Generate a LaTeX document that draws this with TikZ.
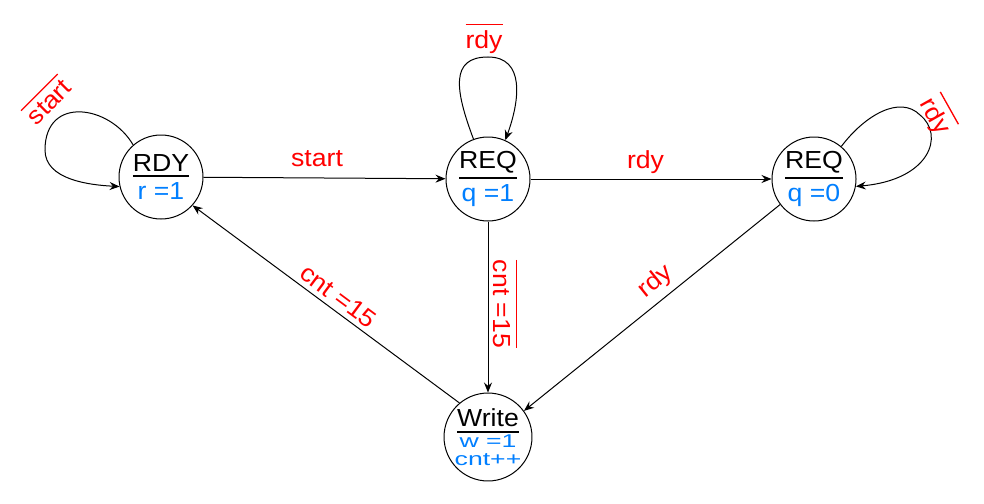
\documentclass[tikz,border=0pt]{standalone}
\usepackage{fontspec}
\setmainfont[FakeStretch=1.08]{Liberation Sans}
\usepackage{graphicx}
\usetikzlibrary{arrows.meta}
\definecolor{sred}{RGB}{255,0,0}
\definecolor{sblue}{RGB}{0,127,255}
\newcommand{\stfont}{\fontsize{18.5}{22}\selectfont}
\newcommand{\sttl}[1]{\setbox0=\hbox{#1}\vbox{\copy0\kern3.2pt\hrule height 1.5pt width \wd0}}
\newcommand{\ovl}[1]{\setbox0=\hbox{#1}\vbox{\hrule height 1pt width \wd0\kern 4pt\box0}}
\tikzset{
  state/.style={circle,draw,line width=0.75pt,minimum size=63pt,inner sep=0pt,align=center,font=\stfont},
  lbl/.style={text=sred,inner sep=0pt,font=\stfont},
  conn/.style={draw,line width=0.75pt,-{Stealth[length=7.5pt,width=6pt,inset=2.5pt]}}
}
\begin{document}
\begin{tikzpicture}[x=0.75pt,y=-0.75pt]
\fill[white] (0,0) rectangle (984,503);
\useasboundingbox (0,0) rectangle (984,503);
% states
\node[state] (rdy) at (161,177) {\sttl{RDY}\\[-5pt]\textcolor{sblue}{r =1}};
\node[state] (req1) at (488,179) {\sttl{REQ}\\[-5pt]\textcolor{sblue}{q =1}};
\node[state] (req2) at (814,179) {\sttl{REQ}\\[-5pt]\textcolor{sblue}{q =0}};
\node[state] (wr) at (488,437) {\sttl{Write}\\[-10.5pt]\scalebox{1}[0.75]{\textcolor{sblue}{w =1}}\\[-8.8pt]\scalebox{1}[0.75]{\textcolor{sblue}{cnt++}}};
% connectors
\draw[conn] (rdy) -- (req1);
\draw[conn] (req1) -- (req2);
\draw[conn] (req1) -- (wr);
\draw[conn] (req2.217) -- (wr.36);
\draw[conn] (wr.130) -- (rdy.-42);
\draw[conn] (rdy.131) .. controls (110,105) and (45,95) .. (45,150) .. controls (45,180) and (90,185) .. (rdy.193);
\draw[conn] (req1.110) .. controls (455,90) and (450,57) .. (488,57) .. controls (525,57) and (520,100) .. (req1.66);
\draw[conn] (req2.50) .. controls (865,115) and (900,95) .. (920,115) .. controls (945,135) and (930,180) .. (req2.-10);
% labels
\node[lbl] (l1) at (317,158.5) {start};
\node[lbl] (l2) at (645.5,162) {rdy};
\node[lbl,rotate=-90] (l3) at (505,304) {\ovl{cnt =15}};
\node[lbl,rotate=-36.6] (l4) at (338.5,296) {cnt =15};
\node[lbl,rotate=38.9] (l5) at (655.5,281.5) {rdy};
\node[lbl,rotate=45] (l6) at (47,100) {\ovl{start}};
\node[lbl] (l7) at (484,38.5) {\ovl{rdy}};
\node[lbl,rotate=-60.7] (l8) at (937,115) {\ovl{rdy}};
\end{tikzpicture}
\end{document}
